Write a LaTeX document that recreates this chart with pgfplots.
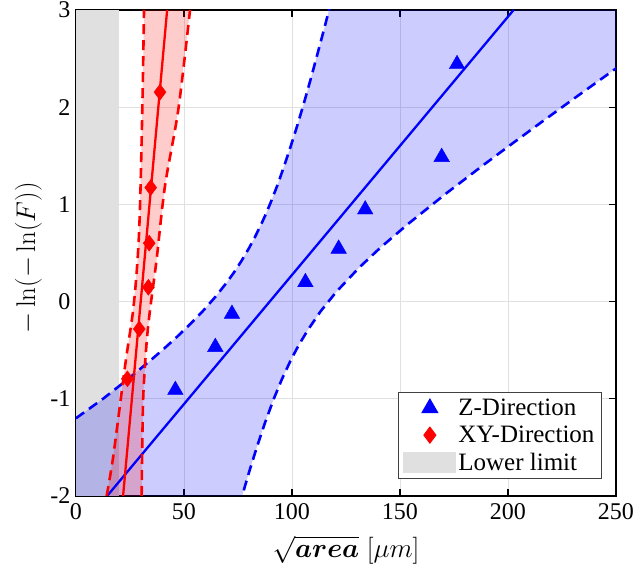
\RequirePackage{fix-cm}
\documentclass[border=0pt]{standalone}
\usepackage{amsmath}
\usepackage[no-math]{fontspec}
\setmainfont{Liberation Serif}
\usepackage{pgfplots}
\pgfplotsset{compat=1.18}
\definecolor{llgray}{RGB}{224,224,224}
\pgfplotsset{
  marklegend/.style={legend image code/.code={\draw[mark repeat=2,mark phase=2,##1] plot coordinates {(0pt,0pt) (26pt,0pt) (52pt,0pt)};}},
  arealegend/.style={legend image code/.code={\fill[llgray] (0pt,-10pt) rectangle (52pt,10pt);}},
}
\begin{document}
\begin{tikzpicture}
\useasboundingbox (-76pt,-68pt) rectangle (557pt,496pt);
\begin{axis}[
  at={(0pt,0pt)}, anchor=south west,
  scale only axis, width=540pt, height=486pt,
  xmin=0, xmax=250, ymin=-2, ymax=3,
  xtick={0,50,...,250}, ytick={-2,-1,0,1,2,3},
  /pgf/number format/assume math mode=true,
  tick label style={font=\fontsize{24}{24}\selectfont},
  xticklabel style={yshift=-4pt},
  yticklabel style={xshift=-2pt},
  grid=major,
  major grid style={draw=black!12, line width=0.8pt},
  axis line style={line width=1.5pt},
  major tick length=7pt,
  tick style={line width=1.2pt, black},
  tick align=inside,
  xlabel={$\sqrt{\boldsymbol{area}}\;[\mu m]$},
  ylabel={$-\ln(-\ln(F))$},
  label style={font=\fontsize{27}{30}\selectfont},
  xlabel style={at={(axis description cs:0.5,-0.111)}, anchor=center},
  ylabel style={at={(axis description cs:-0.0880,0.49)}, anchor=center, rotate=0},
  legend style={at={(0.974,0.034)}, anchor=south east, draw=black!75, line width=1pt,
    fill=white, font=\fontsize{25}{25}\selectfont, legend cell align=left,
    row sep=5pt, inner xsep=5pt, inner ysep=5pt,
    /tikz/every even column/.append style={column sep=3pt}},
]
% lower limit
\addplot[fill=llgray, draw=none, forget plot] coordinates {(0,-2) (20,-2) (20,3) (0,3)} -- cycle;
% blue band
\addplot[fill=blue, fill opacity=0.2, draw=none, forget plot] coordinates {
(0,-2) (0,-1.20) (12.52,-1.0) (21.63,-0.84) (26.63,-0.75) (34.73,-0.6) (40.95,-0.48) (46.89,-0.36)
(52.96,-0.23) (58.63,-0.1) (64.58,0.05) (69.92,0.2) (73.14,0.3) (76.65,0.42) (80.09,0.55) (82.53,0.65)
(85.84,0.80) (87.88,0.9) (90.14,1.02) (93.30,1.2) (96.3,1.39) (99.44,1.6) (102.29,1.8) (105.5,2.04)
(108.79,2.3) (112.3,2.59) (114.82,2.8) (117.15,3.0)
(250,3) (250,2.40) (243.8,2.3) (230.0,2.08) (215.73,1.85) (200.4,1.6) (188.32,1.4) (171.8,1.12)
(153.8,0.8) (140.69,0.55) (131.11,0.35) (120.5,0.1) (113.25,-0.1) (107.4,-0.29) (103.06,-0.45)
(99.49,-0.6) (95.29,-0.8) (91.58,-1.0) (87.44,-1.25) (83.69,-1.5) (80.19,-1.75) (76.9,-2.0)} -- cycle;
% red band
\addplot[fill=red, fill opacity=0.2, draw=none, forget plot] coordinates {
(14.2,-2) (17.0,-1.63) (20.1,-1.11) (23.1,-0.60) (26.5,-0.08) (28.5,0.43) (29.6,0.95) (30.7,1.98) (31.5,3)
(52.8,3) (47.4,1.98) (41.2,1.19) (37.3,0.43) (34.3,-0.08) (32.7,-0.42) (31.2,-0.94) (30.7,-1.45) (30.4,-2)} -- cycle;
% blue bounds
\addplot[blue, line width=2.6pt, dash pattern=on 10pt off 6pt, forget plot] coordinates {
(0,-1.20) (12.52,-1.0) (21.63,-0.84) (26.63,-0.75) (34.73,-0.6) (40.95,-0.48) (46.89,-0.36)
(52.96,-0.23) (58.63,-0.1) (64.58,0.05) (69.92,0.2) (73.14,0.3) (76.65,0.42) (80.09,0.55) (82.53,0.65)
(85.84,0.80) (87.88,0.9) (90.14,1.02) (93.30,1.2) (96.3,1.39) (99.44,1.6) (102.29,1.8) (105.5,2.04)
(108.79,2.3) (112.3,2.59) (114.82,2.8) (117.15,3.0) (118.3,3.1)};
\addplot[blue, line width=2.6pt, dash pattern=on 10pt off 6pt, forget plot] coordinates {
(75.63,-2.1) (76.9,-2.0) (80.19,-1.75) (83.69,-1.5) (87.44,-1.25) (91.58,-1.0) (95.29,-0.8) (99.49,-0.6)
(103.06,-0.45) (107.4,-0.29) (113.25,-0.1) (120.5,0.1) (131.11,0.35) (140.69,0.55) (153.8,0.8)
(171.8,1.12) (188.32,1.4) (200.4,1.6) (215.73,1.85) (230.0,2.08) (243.8,2.3) (256.4,2.5)};
% blue fit
\addplot[blue, line width=2.3pt, forget plot] coordinates {(14.4,-2) (202.6,3)};
% red bounds
\addplot[red, line width=2.6pt, dash pattern=on 10pt off 6pt, smooth, tension=0.5, forget plot] coordinates {
(14.2,-2) (17.0,-1.63) (20.1,-1.11) (23.1,-0.60) (26.5,-0.08) (28.5,0.43) (29.6,0.95) (30.7,1.98) (31.5,3)};
\addplot[red, line width=2.6pt, dash pattern=on 10pt off 6pt, smooth, tension=0.5, forget plot] coordinates {
(30.4,-2) (30.7,-1.45) (31.2,-0.94) (32.7,-0.42) (34.3,-0.08) (37.3,0.43) (41.2,1.19) (47.4,1.98) (52.8,3)};
% red fit
\addplot[red, line width=2.3pt, forget plot] coordinates {(21.8,-2) (42.2,3)};
% data
\addplot[only marks, mark=triangle*, mark size=9pt, blue, mark options={fill=blue, draw=blue}, marklegend]
  coordinates {(46.0,-0.910) (64.5,-0.468) (72.2,-0.127) (106.2,0.199) (121.6,0.543) (133.9,0.947) (169.3,1.487) (176.4,2.442)};
\addlegendentry{Z-Direction}
\addplot[only marks, mark=diamond*, mark size=8pt, red, mark options={fill=red, draw=red}, marklegend]
  coordinates {(23.8,-0.795) (29.3,-0.282) (33.5,0.147) (33.9,0.601) (34.6,1.173) (38.9,2.155)};
\addlegendentry{XY-Direction}
\addlegendimage{arealegend}
\addlegendentry{Lower limit}
\end{axis}
\end{tikzpicture}
\end{document}
